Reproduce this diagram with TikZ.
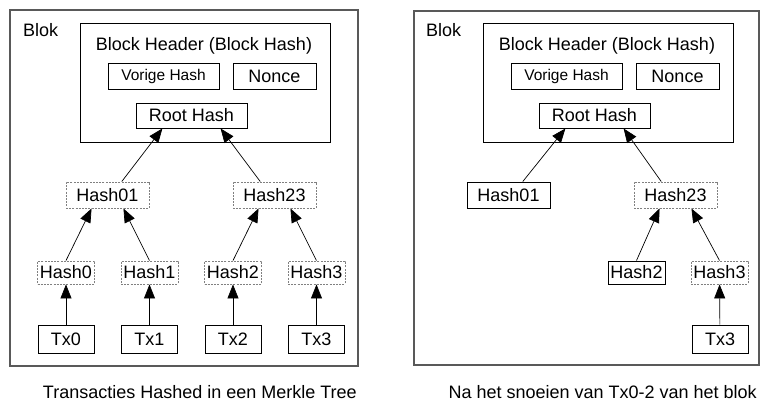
\documentclass[tikz,border=0pt]{standalone}
\usepackage{fontspec}
\setmainfont{Liberation Sans}
\usetikzlibrary{arrows.meta,calc}

\begin{document}
\begin{tikzpicture}[x=1pt, y=-1pt,
    box/.style={draw, line width=0.9pt, inner sep=0pt, font=\fontsize{18}{20}\selectfont},
    hashbox/.style={box, draw=black!50, dash pattern=on 2pt off 1.2pt},
    blok/.style={draw=black!65, line width=1.1pt},
    pijl/.style={-{Triangle[length=14pt,width=11pt]}, line width=0.7pt},
    tekst/.style={inner sep=0pt, font=\fontsize{18}{20}\selectfont}]
    \useasboundingbox (0,0) rectangle (772,401);

    % Linkerblok: volledige Merkle tree
    \draw[blok] (10,10) rectangle (358,366);
    \node[tekst, anchor=base west] (blokA) at (23,37) {Blok};
    \draw[line width=0.9pt] (80,23) rectangle (330,142);
    \node[tekst, anchor=base] (kopA) at (204,51) {Block Header (Block Hash)};
    \node[box, minimum width=111pt, minimum height=26pt, font=\fontsize{15.5}{17}\selectfont] (vorigeA) at (163.5,76) {Vorige Hash};
    \node[box, minimum width=83pt, minimum height=26pt] (nonceA) at (274.5,76) {Nonce};
    \node[box, minimum width=111pt, minimum height=25pt] (rootA) at (191.5,115.5) {Root Hash};

    \node[hashbox, minimum width=83pt, minimum height=26pt] (h01A) at (107.5,195) {Hash01};
    \node[hashbox, minimum width=83pt, minimum height=26pt] (h23A) at (274.5,195) {Hash23};

    \node[hashbox, minimum width=57pt, minimum height=23pt] (h0A) at (66,272.5) {Hash0};
    \node[hashbox, minimum width=57pt, minimum height=23pt] (h1A) at (149.5,272.5) {Hash1};
    \node[hashbox, minimum width=57pt, minimum height=23pt] (h2A) at (233,272.5) {Hash2};
    \node[hashbox, minimum width=57pt, minimum height=23pt] (h3A) at (316.5,272.5) {Hash3};

    \node[box, minimum width=56pt, minimum height=28pt] (tx0A) at (66,339) {Tx0};
    \node[box, minimum width=56pt, minimum height=28pt] (tx1A) at (149.5,339) {Tx1};
    \node[box, minimum width=56pt, minimum height=28pt] (tx2A) at (233,339) {Tx2};
    \node[box, minimum width=56pt, minimum height=28pt] (tx3A) at (316.5,339) {Tx3};

    % Pijlen links
    \draw[pijl] ($(h01A.north west)!0.67!(h01A.north east)$) -- ($(rootA.south west)!0.24!(rootA.south east)$);
    \draw[pijl] ($(h23A.north west)!0.33!(h23A.north east)$) -- ($(rootA.south west)!0.76!(rootA.south east)$);
    \draw[pijl] (h0A.north) -- ($(h01A.south west)!0.31!(h01A.south east)$);
    \draw[pijl] (h1A.north) -- ($(h01A.south west)!0.69!(h01A.south east)$);
    \draw[pijl] (h2A.north) -- ($(h23A.south west)!0.31!(h23A.south east)$);
    \draw[pijl] (h3A.north) -- ($(h23A.south west)!0.69!(h23A.south east)$);
    \draw[pijl] (tx0A) -- (h0A);
    \draw[pijl] (tx1A) -- (h1A);
    \draw[pijl] (tx2A) -- (h2A);
    \draw[pijl] (tx3A) -- (h3A);

    % Rechterblok: na het snoeien
    \draw[blok] (414,11) rectangle (759,365);
    \node[tekst, anchor=base west] (blokB) at (426,37) {Blok};
    \draw[line width=0.9pt] (483,23) rectangle (733,142);
    \node[tekst, anchor=base] (kopB) at (607,51) {Block Header (Block Hash)};
    \node[box, minimum width=111pt, minimum height=26pt, font=\fontsize{15.5}{17}\selectfont] (vorigeB) at (566.5,76) {Vorige Hash};
    \node[box, minimum width=83pt, minimum height=26pt] (nonceB) at (677.5,76) {Nonce};
    \node[box, minimum width=111pt, minimum height=25pt] (rootB) at (594.5,115.5) {Root Hash};

    \node[box, minimum width=83pt, minimum height=26pt] (h01B) at (508.5,195) {Hash01};
    \node[hashbox, minimum width=83pt, minimum height=26pt] (h23B) at (675.5,195) {Hash23};
    \node[box, minimum width=57pt, minimum height=23pt] (h2B) at (636.5,272.5) {Hash2};
    \node[hashbox, minimum width=57pt, minimum height=23pt] (h3B) at (719.5,272.5) {Hash3};
    \node[box, minimum width=56pt, minimum height=28pt] (tx3B) at (720,339) {Tx3};

    % Pijlen rechts
    \draw[pijl] ($(h01B.north west)!0.67!(h01B.north east)$) -- ($(rootB.south west)!0.24!(rootB.south east)$);
    \draw[pijl] ($(h23B.north west)!0.33!(h23B.north east)$) -- ($(rootB.south west)!0.76!(rootB.south east)$);
    \draw[pijl] (h2B.north) -- ($(h23B.south west)!0.31!(h23B.south east)$);
    \draw[pijl] (h3B.north) -- ($(h23B.south west)!0.69!(h23B.south east)$);
    \draw[pijl] (tx3B) -- (h3B);

    % Onderschriften
    \node[tekst, anchor=base east] (onderA) at (357,398) {Transacties Hashed in een Merkle Tree};
    \node[tekst, anchor=base east] (onderB) at (757,398) {Na het snoeien van Tx0-2 van het blok};
\end{tikzpicture}
\end{document}
